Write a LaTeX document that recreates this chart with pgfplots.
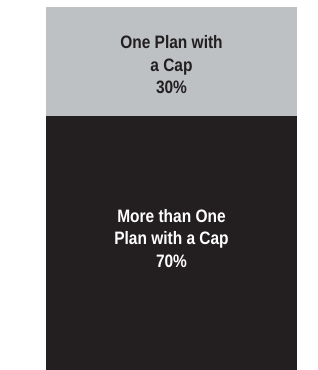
\documentclass[border=0pt]{standalone}
\usepackage{pgfplots}
\pgfplotsset{compat=1.18}
\usepackage{fontspec}
\setmainfont{Liberation Sans}
\newfontfamily\condfont[FakeStretch=0.86]{Liberation Sans Bold}
\definecolor{capgray}{RGB}{189,193,196}
\definecolor{capdark}{RGB}{35,31,32}
\begin{document}
\begin{tikzpicture}[x=1pt,y=1pt]
\useasboundingbox (-46,0) rectangle (271,370);
\begin{axis}[
  at={(0,0)}, anchor=south west,
  scale only axis, width=251pt, height=363pt,
  hide axis,
  xmin=-0.5, xmax=0.5, ymin=0, ymax=100,
  ybar stacked, bar width=1,
  clip=false,
]
\addplot[fill=capdark, draw=none] coordinates {(0,70)};
\addplot[fill=capgray, draw=none] coordinates {(0,30)};
\coordinate (toplab) at (axis cs:0,84);
\coordinate (botlab) at (axis cs:0,36.3);
\end{axis}
\node[align=center, text=capdark, font={\condfont\fontsize{18}{22.5}\selectfont}] at (toplab) {One Plan with\\a Cap\\30\%};
\node[align=center, text=white, font={\condfont\fontsize{18}{22.5}\selectfont}] at (botlab) {More than One\\Plan with a Cap\\70\%};
\end{tikzpicture}
\end{document}
